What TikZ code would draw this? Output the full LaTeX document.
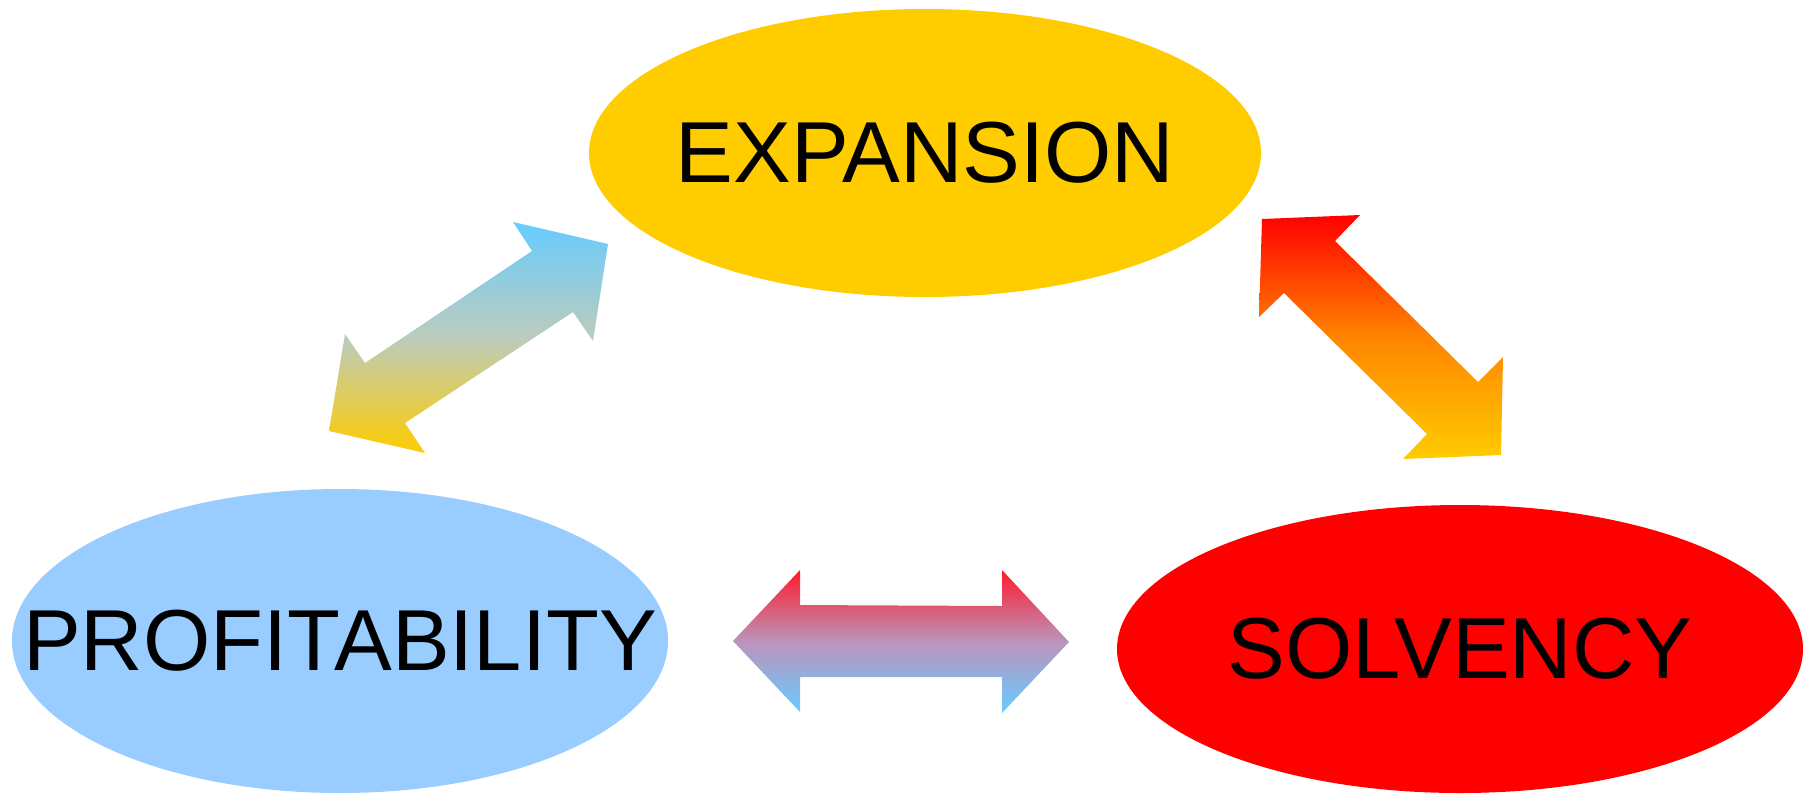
\documentclass[tikz,border=0pt]{standalone}
\usepackage{fontspec}
\setmainfont{Liberation Sans}
\usetikzlibrary{shapes.geometric}
\definecolor{expyellow}{HTML}{FFCC00}
\definecolor{profblue}{HTML}{99CCFF}
\definecolor{solvred}{HTML}{FF0000}
\definecolor{arrblue}{HTML}{66CCFF}
\definecolor{arrred}{HTML}{FF1A2A}
\definecolor{midgray}{HTML}{BCCCBC}
\definecolor{midorange}{HTML}{FF8400}
\definecolor{midlav}{HTML}{BC94BC}
\begin{document}
\begin{tikzpicture}[x=0.5pt,y=-0.5pt,
  bubble/.style={ellipse, inner sep=0pt, draw=none, text=black,
    font=\fontsize{43.3}{50}\selectfont}]
\useasboundingbox (0,0) rectangle (1803,794);
% ellipses
\node[bubble, fill=expyellow, minimum width=336pt, minimum height=144pt] (exp) at (925,153) {\makebox[0pt]{EXPANSION}};
\node[bubble, fill=profblue, minimum width=328pt, minimum height=152pt] (prof) at (340,641) {\makebox[0pt]{PROFITABILITY}};
\node[bubble, fill=solvred, minimum width=343pt, minimum height=144pt] (solv) at (1460,649) {\makebox[0pt]{SOLVENCY}};
% block arrows
\path[top color=arrblue, bottom color=expyellow, middle color=midgray]
  (513,222) -- (608,244) -- (593,341) -- (573,312) -- (405,423) -- (425,453)
  -- (329,431) -- (345,334) -- (365,363) -- (532,251) -- cycle;
\path[top color=solvred, bottom color=expyellow, middle color=midorange]
  (1262,219) -- (1360,215) -- (1335,241) -- (1478,382) -- (1503,357) -- (1501,455)
  -- (1403,459) -- (1427,434) -- (1284,293) -- (1259,317) -- cycle;
\path[top color=arrred, bottom color=arrblue, middle color=midlav]
  (733,641) -- (800,570) -- (800,605) -- (1002,606) -- (1002,570) -- (1069,642)
  -- (1002,713) -- (1002,677) -- (800,677) -- (800,712) -- cycle;
\end{tikzpicture}
\end{document}
